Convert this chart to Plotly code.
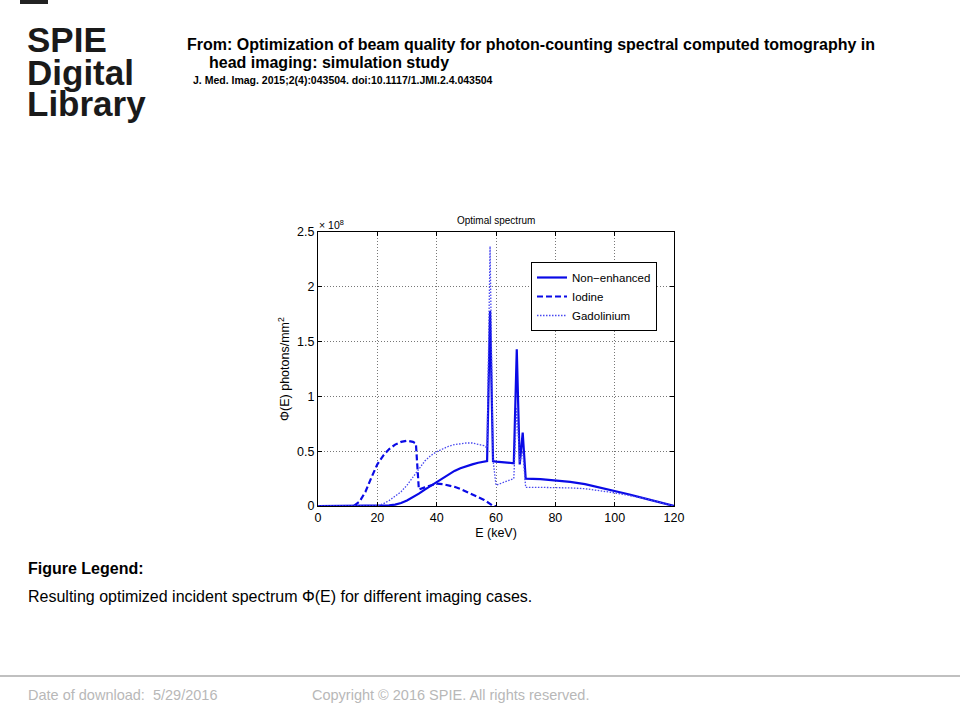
import plotly.graph_objects as go

# ---- data ----
E_non = [0, 22, 24, 26, 28, 30, 32, 34, 36, 38, 40, 42, 44, 46, 48, 50, 52, 54, 56, 57,
         58, 59, 60, 62, 64, 66, 67, 68, 69, 70, 75, 80, 85, 90, 95, 100, 105, 110, 115, 120]
phi_non = [0, 0, 0.005, 0.013, 0.027, 0.05, 0.08, 0.113, 0.15, 0.185, 0.218, 0.255, 0.29,
           0.32, 0.345, 0.365, 0.38, 0.395, 0.405, 0.41,
           1.78, 0.41, 0.405, 0.4, 0.395, 0.39, 1.43, 0.38, 0.67, 0.25,
           0.245, 0.235, 0.22, 0.2, 0.17, 0.135, 0.105, 0.07, 0.035, 0.0]

E_iod = [0, 12, 14, 16, 18, 20, 22, 24, 26, 28, 30, 32, 33, 34, 36, 38, 40, 42, 44, 46,
         48, 50, 52, 54, 56, 58, 59, 60]
phi_iod = [0, 0, 0.04, 0.13, 0.26, 0.38, 0.46, 0.52, 0.56, 0.585, 0.595, 0.585, 0.57,
           0.15, 0.17, 0.19, 0.205, 0.2, 0.19, 0.175, 0.155, 0.13, 0.105, 0.08, 0.055,
           0.02, 0.0, 0.0]

E_gad = [0, 20, 22, 24, 26, 28, 30, 32, 34, 36, 38, 40, 42, 44, 46, 48, 50, 52, 54, 56, 57,
         58, 59, 60, 62, 64, 66, 67, 68, 69, 70, 75, 80, 85, 90, 95, 100, 105, 110, 115, 120]
phi_gad = [0, 0, 0.02, 0.05, 0.09, 0.13, 0.19, 0.26, 0.33, 0.41, 0.46, 0.495, 0.52, 0.545,
           0.56, 0.57, 0.575, 0.575, 0.565, 0.55, 0.53,
           2.37, 0.42, 0.19, 0.21, 0.23, 0.25, 0.9, 0.4, 0.5, 0.17,
           0.17, 0.17, 0.165, 0.158, 0.14, 0.12, 0.095, 0.07, 0.035, 0.0]

x_ticks = [0, 20, 40, 60, 80, 100, 120]
y_ticks = [0, 0.5, 1, 1.5, 2, 2.5]
y_tick_text = ["0", "0.5", "1", "1.5", "2", "2.5"]

# ---- geometry of the plot area (pixels) ----
W, H = 960, 720
L, R, T, B = 318, 674, 232, 506


def px(x):
    return (x - L) / (R - L)


def py(y):
    return (B - y) / (B - T)


FONT = "Liberation Sans, Arial, sans-serif"
BLUE = "#0a0ae6"

fig = go.Figure()
fig.add_trace(go.Scatter(x=E_non, y=phi_non, mode="lines", name="Non\u2212enhanced",
                         line=dict(color=BLUE, width=2.2)))
fig.add_trace(go.Scatter(x=E_iod, y=phi_iod, mode="lines", name="Iodine",
                         line=dict(color=BLUE, width=2.2, dash="6px,3px")))
fig.add_trace(go.Scatter(x=E_gad, y=phi_gad, mode="lines", name="Gadolinium",
                         line=dict(color="#4848f0", width=1.3, dash="1.5px,1.5px")))

axis_common = dict(showline=True, linecolor="black", linewidth=1, mirror="ticks",
                   ticks="inside", ticklen=4, tickcolor="black",
                   showgrid=True, gridcolor="#777", griddash="1px,2px", gridwidth=1,
                   zeroline=False, tickfont=dict(family=FONT, size=12.5, color="black"))

fig.update_layout(
    width=W, height=H,
    margin=dict(l=L, r=W - R, t=T, b=H - B, autoexpand=False),
    paper_bgcolor="white", plot_bgcolor="white",
    showlegend=True,
    legend=dict(x=px(531), y=py(262), xanchor="left", yanchor="top",
                bordercolor="black", borderwidth=1, bgcolor="white",
                font=dict(family=FONT, size=11.5, color="black"),
                tracegroupgap=0, itemwidth=30),
    xaxis=dict(range=[0, 120], tickvals=x_ticks, **axis_common,
               title=dict(text="E (keV)", font=dict(family=FONT, size=12.5, color="black"),
                          standoff=4)),
    yaxis=dict(range=[0, 2.5], tickvals=y_ticks, ticktext=y_tick_text, **axis_common,
               title=dict(text="\u03a6(E) photons/mm<sup>2</sup>",
                          font=dict(family=FONT, size=12.5, color="black"), standoff=4)),
)

ann = []


def text(x, y, s, size, bold=False, color="black", anchor="left", yanchor="middle", fam=FONT):
    ann.append(dict(x=px(x), y=py(y), xref="paper", yref="paper", text=s, showarrow=False,
                    xanchor=anchor, yanchor=yanchor,
                    font=dict(family=fam, size=size, color=color,
                              weight="bold" if bold else "normal")))


# chart title and exponent
text(496, 220, "Optimal spectrum", 10, anchor="center")
text(317, 224, "\u00d7 10<sup>8</sup>", 10.5)

# logo
text(25, 39, "SPIE", 35, bold=True, color="#1a1a1a")
text(25, 72, "Digital", 35, bold=True, color="#1a1a1a")
text(25, 104, "Library", 35, bold=True, color="#1a1a1a")

# header
text(185, 44, "From: Optimization of beam quality for photon-counting spectral computed tomography in",
     16, bold=True)
text(207, 62, "head imaging: simulation study", 16, bold=True)
text(191, 80, "J. Med. Imag. 2015;2(4):043504. doi:10.1117/1.JMI.2.4.043504", 10.5, bold=True)

# caption
text(26, 568, "Figure Legend:", 16, bold=True)
text(26, 596, "Resulting optimized incident spectrum \u03a6(E) for different imaging cases.", 16)

# footer
text(26, 695, "Date of download:  5/29/2016", 14.5, color="#b8b8b8")
text(310, 695, "Copyright \u00a9 2016 SPIE. All rights reserved.", 14.5, color="#b8b8b8")

shapes = [
    dict(type="rect", xref="paper", yref="paper", x0=px(20), x1=px(48), y0=py(0), y1=py(4),
         fillcolor="#222", line=dict(width=0)),
    dict(type="line", xref="paper", yref="paper", x0=px(0), x1=px(960), y0=py(676), y1=py(676),
         line=dict(color="#c0c0c0", width=2)),
]

fig.update_layout(annotations=ann, shapes=shapes)

fig.write_html("out.html", config={"displayModeBar": False},
               post_script="document.body.style.margin='0';document.body.style.overflow='hidden';")
